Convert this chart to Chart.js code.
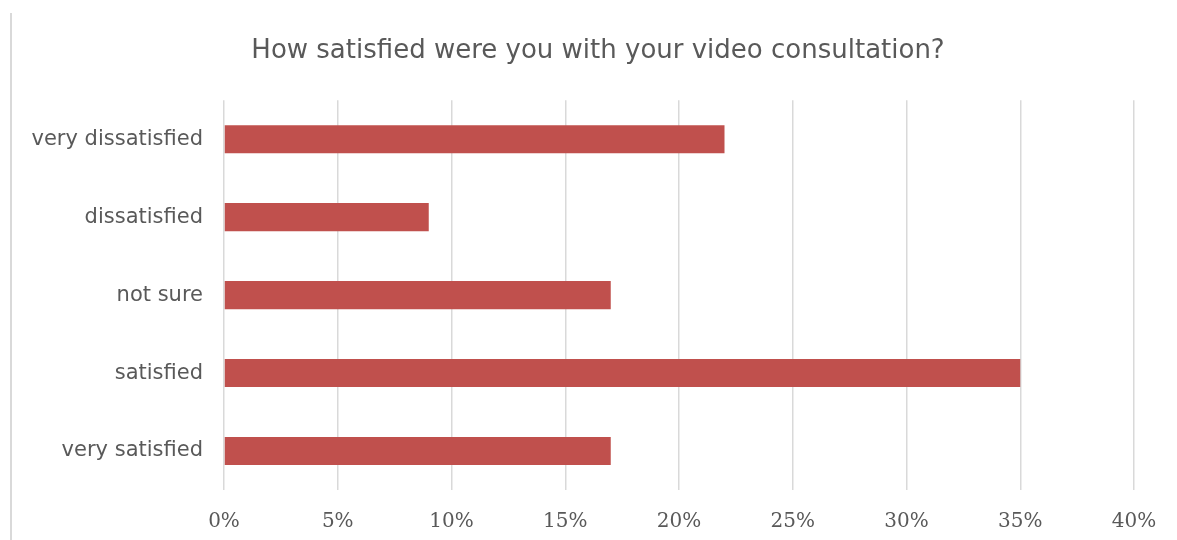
<!DOCTYPE html>
<html>
<head>
<meta charset="utf-8">
<script src="https://cdn.jsdelivr.net/npm/chart.js@4"></script>
<style>
  html, body { margin: 0; padding: 0; background: #fff; }
  .wrap { position: relative; width: 1177px; height: 540px; }
  .wrap:before { content: ''; position: absolute; left: 10px; top: 13px; width: 2px; height: 527px; background: #d9d9d9; }
</style>
</head>
<body>
<div class="wrap"><canvas id="myChart" width="1177" height="540"></canvas></div>
<script>
const categories = ['very dissatisfied', 'dissatisfied', 'not sure', 'satisfied', 'very satisfied'];
const values = [22, 9, 17, 35, 17];
const xTicks = [0, 5, 10, 15, 20, 25, 30, 35, 40];

const ctx = document.getElementById('myChart');

// nudge the title so it is centred a bit right of the plot, like the original
const shiftTitle = {
  id: 'shiftTitle',
  afterLayout(chart) {
    const t = chart.titleBlock;
    if (t) { t.left += 62; t.width = t.right - t.left; }
  }
};

new Chart(ctx, {
  type: 'bar',
  data: {
    labels: categories,
    datasets: [{
      data: values,
      backgroundColor: '#C0504D',
      barPercentage: 0.36,
      categoryPercentage: 1
    }]
  },
  options: {
    indexAxis: 'y',
    responsive: false,
    animation: false,
    layout: { padding: { left: 0, right: 43, top: 0, bottom: 0 } },
    plugins: {
      legend: { display: false },
      tooltip: { enabled: false },
      title: {
        display: true,
        text: 'How satisfied were you with your video consultation?',
        color: '#595959',
        font: { family: 'DejaVu Sans', size: 26, weight: 'normal', lineHeight: 1.2 },
        padding: { top: 36, bottom: 33 }
      }
    },
    scales: {
      x: {
        min: 0,
        max: 40,
        afterBuildTicks: (scale) => { scale.ticks = xTicks.map(v => ({ value: v })); },
        afterFit: (scale) => { scale.height = 50; },
        grid: { color: '#d9d9d9', lineWidth: 1.5, drawTicks: false },
        border: { display: false },
        ticks: {
          padding: 20,
          color: '#595959',
          font: { family: 'DejaVu Serif', size: 20 },
          callback: (v) => v + '%'
        }
      },
      y: {
        afterFit: (scale) => { scale.width = 224; },
        grid: { display: false, drawTicks: false },
        border: { display: false },
        ticks: {
          padding: 21,
          color: '#595959',
          font: { family: 'DejaVu Sans', size: 21 }
        }
      }
    }
  },
  plugins: [shiftTitle]
});
</script>
</body>
</html>
